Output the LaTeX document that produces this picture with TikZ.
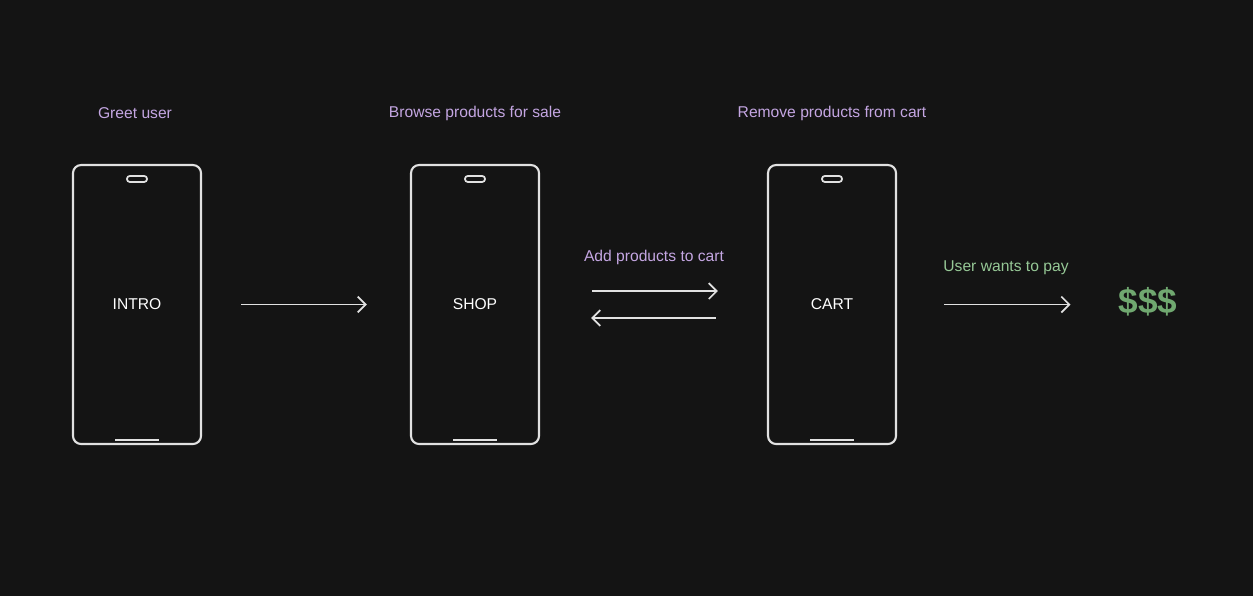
\documentclass[tikz,border=0pt]{standalone}
\usepackage{fontspec}
\setmainfont{Liberation Sans}
\usepackage{xcolor}
\usetikzlibrary{arrows.meta,positioning,calc}
\definecolor{bgdark}{RGB}{20,20,20}
\definecolor{sketchline}{RGB}{225,225,225}
\definecolor{capviolet}{RGB}{196,166,226}
\definecolor{paygreen}{RGB}{150,200,150}
\definecolor{cashgreen}{RGB}{112,168,112}

\tikzset{
  phone/.style={draw=sketchline, line width=1.2pt, rounded corners=0.16cm,
    minimum width=2.56cm, minimum height=5.58cm, inner sep=0pt,
    text=white, font=\fontsize{8.9}{10}\selectfont},
  caption/.style={text=capviolet, font=\fontsize{8.9}{10}\selectfont},
  flow/.style={sketchline, line width=1pt,
    -{Straight Barb[length=4.5pt,width=9pt]}}
}

\begin{document}
\begin{tikzpicture}[x=0.02cm,y=-0.02cm]
\fill[bgdark] (0,0) rectangle (1253,596);

% the three screens
\foreach \name/\x/\txt in {intro/137/INTRO,shop/475/SHOP,cart/832/CART} {
  \node[phone] (\name) at (\x,304.5) {\txt};
  \draw[sketchline, line width=1pt, rounded corners=1.6pt]
    ($(\name.north)+(-10,12)$) rectangle ($(\name.north)+(10,18)$);
  \draw[sketchline, line width=1pt] ($(\name.south)+(-22,-5)$) -- ($(\name.south)+(22,-5)$);
}

\node[caption] (introcap) at ($(intro.north)+(-2,-51)$) {Greet user};
\node[caption] (shopcap) at ($(shop.north)+(0,-51)$) {Browse products for sale};
\node[caption] (cartcap) at ($(cart.north)+(0,-51)$) {Remove products from cart};

\node[text=cashgreen, font=\fontsize{20}{22}\selectfont\bfseries] (pay) at (1148,302) {\$\$\$};

% moves between screens
\draw[flow, shorten <=0.78cm, shorten >=0.86cm] (intro) -- (shop);
\draw[flow, shorten <=1.04cm, shorten >=0.98cm] ([yshift=0.27cm]shop.east) -- ([yshift=0.27cm]cart.west);
\draw[flow, shorten <=1.02cm, shorten >=1.02cm] ([yshift=-0.27cm]cart.west) -- ([yshift=-0.27cm]shop.east);
\node[caption] (addcap) at (654,257) {Add products to cart};

\draw[flow, shorten <=0.94cm, shorten >=0.84cm] (cart.east) -- (cart.east -| pay.west);
\node[text=paygreen, font=\fontsize{8.9}{10}\selectfont] (paycap) at (1006,268) {User wants to pay};
\end{tikzpicture}
\end{document}
